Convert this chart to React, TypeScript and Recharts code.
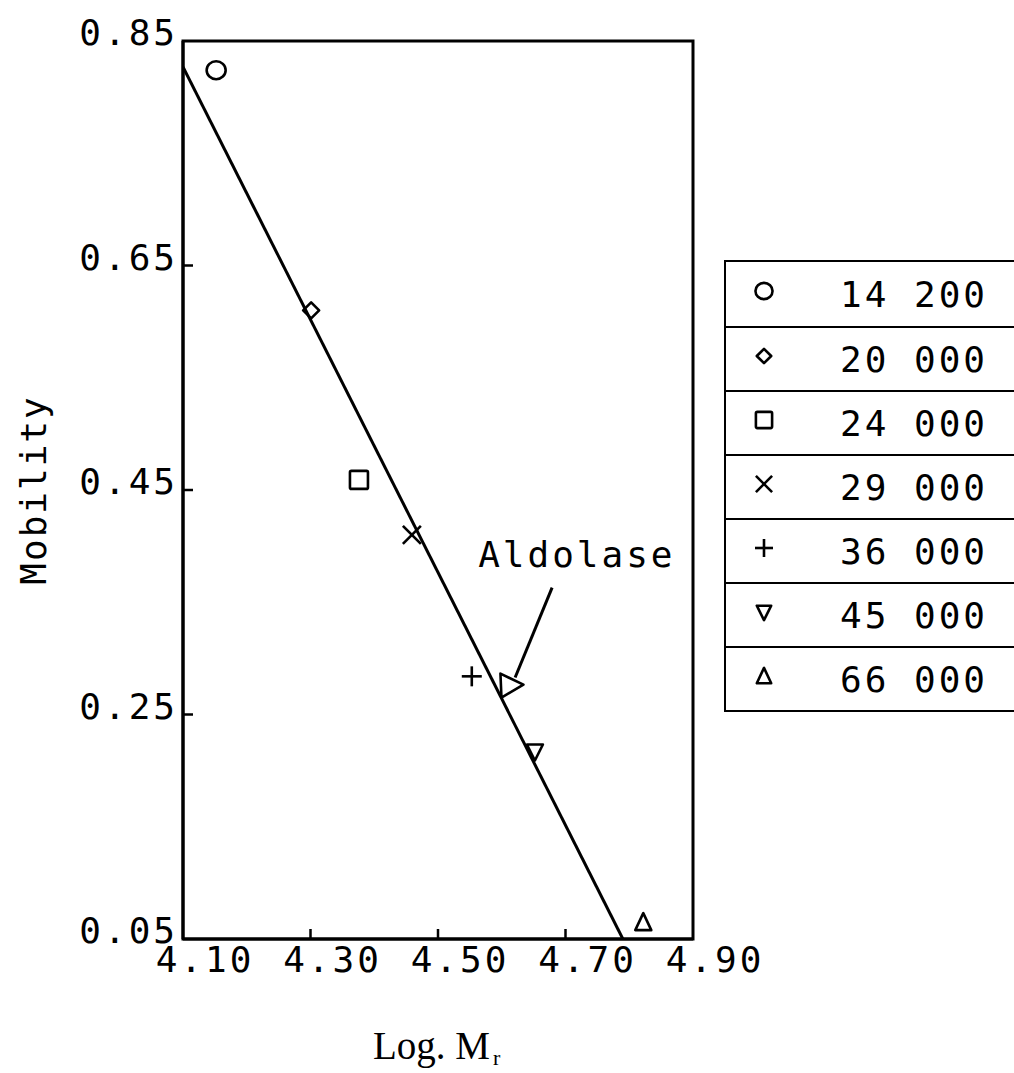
import React from "react";
import {
  ScatterChart,
  Scatter,
  XAxis,
  YAxis,
  ReferenceArea,
  ReferenceLine,
  ReferenceDot,
  Legend,
} from "recharts";

// marker proteins (Mr), their log Mr and measured mobility
const proteins = ["14 200", "20 000", "24 000", "29 000", "36 000", "45 000", "66 000"];
const logMr = [4.152, 4.301, 4.376, 4.459, 4.553, 4.652, 4.822];
const mobility = [0.824, 0.61, 0.459, 0.41, 0.284, 0.217, 0.065];
const markerKinds = ["circle", "diamond", "square", "cross", "plus", "triangleDown", "triangleUp"];

// fitted calibration line
const fitLogMr = [4.1, 4.79];
const fitMobility = [0.827, 0.05];

// aldolase point and its annotation arrow
const aldolaseLogMr = [4.6105];
const aldolaseMobility = [0.2757];
const arrowLogMr = [4.679, 4.621];
const arrowMobility = [0.363, 0.283];
const aldolaseLabelAt = [4.563, 0.381];

const xTicks = [4.1, 4.3, 4.5, 4.7, 4.9];
const yTicks = [0.05, 0.25, 0.45, 0.65, 0.85];

const PLOT_FONT = "'DejaVu Sans Mono', monospace";
const INK = "#000";

function Glyph({ kind, cx, cy, k = 1 }: { kind: string; cx: number; cy: number; k?: number }) {
  const common = { fill: "none", stroke: INK, strokeWidth: 2.6, strokeLinejoin: "round" as const };
  switch (kind) {
    case "circle":
      return <ellipse cx={cx} cy={cy} rx={9.5 * k} ry={9 * k} {...common} />;
    case "diamond":
      return (
        <polygon
          points={`${cx},${cy - 8 * k} ${cx + 8 * k},${cy} ${cx},${cy + 8 * k} ${cx - 8 * k},${cy}`}
          {...common}
        />
      );
    case "square":
      return <rect x={cx - 9 * k} y={cy - 9 * k} width={18 * k} height={18 * k} rx={1.5} {...common} />;
    case "cross":
      return (
        <g {...common}>
          <line x1={cx - 9 * k} y1={cy - 9 * k} x2={cx + 9 * k} y2={cy + 9 * k} />
          <line x1={cx - 9 * k} y1={cy + 9 * k} x2={cx + 9 * k} y2={cy - 9 * k} />
        </g>
      );
    case "plus":
      return (
        <g {...common}>
          <line x1={cx - 10 * k} y1={cy} x2={cx + 10 * k} y2={cy} />
          <line x1={cx} y1={cy - 10 * k} x2={cx} y2={cy + 10 * k} />
        </g>
      );
    case "triangleDown":
      return (
        <polygon
          points={`${cx - 8 * k},${cy - 7 * k} ${cx + 8 * k},${cy - 7 * k} ${cx},${cy + 9 * k}`}
          {...common}
        />
      );
    case "triangleUp":
      return (
        <polygon
          points={`${cx - 8 * k},${cy + 8 * k} ${cx + 8 * k},${cy + 8 * k} ${cx},${cy - 9 * k}`}
          {...common}
        />
      );
    case "triangleRight":
      return (
        <polygon
          points={`${cx - 8 * k},${cy - 12 * k} ${cx + 15 * k},${cy - 1 * k} ${cx - 7 * k},${cy + 12 * k}`}
          {...common}
        />
      );
    default:
      return null;
  }
}

function XTick(props: any) {
  const { x, y, payload } = props;
  const edge = payload.value === xTicks[0] || payload.value === xTicks[xTicks.length - 1];
  return (
    <g>
      {!edge && <line x1={x} y1={y} x2={x} y2={y - 10} stroke={INK} strokeWidth={2.5} />}
      <text
        x={x + 22}
        y={y + 33}
        textAnchor="middle"
        fontFamily={PLOT_FONT}
        fontSize={36}
        letterSpacing={3}
        fill={INK}
      >
        {payload.value.toFixed(2)}
      </text>
    </g>
  );
}

function YTick(props: any) {
  const { x, y, payload } = props;
  const edge = payload.value === yTicks[0] || payload.value === yTicks[yTicks.length - 1];
  return (
    <g>
      {!edge && <line x1={x} y1={y} x2={x + 10} y2={y} stroke={INK} strokeWidth={2.5} />}
      <text
        x={x - 5}
        y={y + 4}
        textAnchor="end"
        fontFamily={PLOT_FONT}
        fontSize={36}
        letterSpacing={3}
        fill={INK}
      >
        {payload.value.toFixed(2)}
      </text>
    </g>
  );
}

function LegendTable({ payload }: any) {
  const items = (payload || []).filter((p: any) => proteins.includes(p.value));
  return (
    <div
      style={{
        width: 310,
        border: "2.5px solid #000",
        borderRight: "none",
        background: "#fff",
        boxSizing: "border-box",
      }}
    >
      {items.map((p: any, i: number) => (
        <div
          key={p.value}
          style={{
            height: 64,
            display: "flex",
            alignItems: "center",
            borderTop: i === 0 ? "none" : "2.5px solid #000",
            boxSizing: "border-box",
          }}
        >
          <svg width={80} height={40} style={{ display: "block" }}>
            <Glyph kind={markerKinds[proteins.indexOf(p.value)]} cx={38} cy={17} k={0.9} />
          </svg>
          <span
            style={{
              marginLeft: 34,
              fontFamily: PLOT_FONT,
              fontSize: 36,
              letterSpacing: 3,
              whiteSpace: "pre",
              color: "#000",
            }}
          >
            {p.value}
          </span>
        </div>
      ))}
    </div>
  );
}

export default function App() {
  const fit = fitLogMr.map((x, i) => ({ x, y: fitMobility[i] }));
  const aldolase = aldolaseLogMr.map((x, i) => ({ x, y: aldolaseMobility[i] }));

  return (
    <div style={{ position: "absolute", left: 0, top: 0, width: 1014, height: 1073, overflow: "hidden", background: "#fff" }}>
      <ScatterChart width={1014} height={1073} margin={{ top: 41, right: 321, bottom: 74, left: 0 }}>
        <XAxis
          type="number"
          dataKey="x"
          domain={[4.1, 4.9]}
          ticks={xTicks}
          height={60}
          tickSize={0}
          tickMargin={0}
          tick={<XTick />}
          axisLine={{ stroke: INK, strokeWidth: 3 }}
          tickLine={false}
          allowDataOverflow
          label={(lp: any) => {
            const vb = lp.viewBox;
            return (
              <text x={373} y={vb.y + 120} fontFamily="'Liberation Serif', 'Times New Roman', serif" fontSize={39} fill={INK}>
                Log. M
                <tspan fontSize={22} dx={3} dy={6}>
                  r
                </tspan>
              </text>
            );
          }}
        />
        <YAxis
          type="number"
          dataKey="y"
          domain={[0.05, 0.85]}
          ticks={yTicks}
          width={183}
          tickSize={0}
          tickMargin={0}
          tick={<YTick />}
          axisLine={{ stroke: INK, strokeWidth: 3 }}
          tickLine={false}
          allowDataOverflow
          label={(lp: any) => {
            const vb = lp.viewBox;
            const cy = vb.y + vb.height / 2;
            return (
              <text
                x={46}
                y={cy}
                transform={`rotate(-90, 46, ${cy})`}
                textAnchor="middle"
                fontFamily={PLOT_FONT}
                fontSize={36}
                letterSpacing={2}
                fill={INK}
              >
                Mobility
              </text>
            );
          }}
        />
        <ReferenceArea
          x1={4.1}
          x2={4.9}
          y1={0.05}
          y2={0.85}
          fill="none"
          fillOpacity={0}
          stroke={INK}
          strokeWidth={3}
        />
        <Scatter
          name="fit"
          data={fit}
          line={{ stroke: INK, strokeWidth: 3 }}
          shape={() => <g />}
          legendType="none"
          isAnimationActive={false}
        />
        {proteins.map((name, i) => (
          <Scatter
            key={name}
            name={name}
            data={[{ x: logMr[i], y: mobility[i] }]}
            shape={(sp: any) => <Glyph kind={markerKinds[i]} cx={sp.cx} cy={sp.cy} />}
            isAnimationActive={false}
          />
        ))}
        <Scatter
          name="Aldolase"
          data={aldolase}
          shape={(sp: any) => <Glyph kind="triangleRight" cx={sp.cx} cy={sp.cy} />}
          legendType="none"
          isAnimationActive={false}
        />
        <ReferenceLine
          segment={[
            { x: arrowLogMr[0], y: arrowMobility[0] },
            { x: arrowLogMr[1], y: arrowMobility[1] },
          ]}
          stroke={INK}
          strokeWidth={3}
        />
        <ReferenceDot
          x={aldolaseLabelAt[0]}
          y={aldolaseLabelAt[1]}
          r={0}
          fill="none"
          stroke="none"
          label={(lp: any) => {
            const vb = lp.viewBox;
            return (
              <text
                x={vb.x + vb.width / 2}
                y={vb.y + vb.height / 2}
                fontFamily={PLOT_FONT}
                fontSize={36}
                letterSpacing={3}
                fill={INK}
              >
                Aldolase
              </text>
            );
          }}
        />
        <Legend
          layout="vertical"
          align="center"
          verticalAlign="middle"
          content={<LegendTable />}
          wrapperStyle={{ left: 724, top: 260, width: 310, height: 452 }}
        />
      </ScatterChart>
    </div>
  );
}
